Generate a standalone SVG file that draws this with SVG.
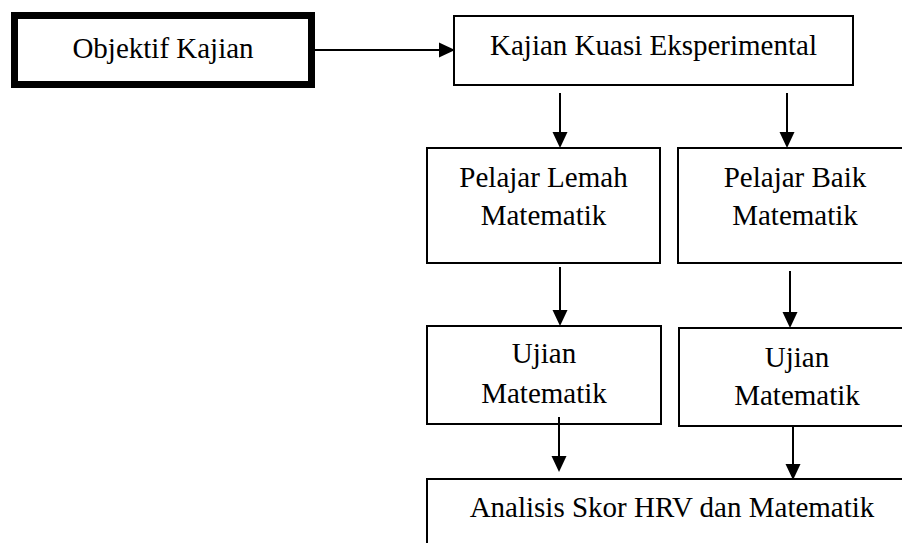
<svg xmlns="http://www.w3.org/2000/svg" width="902" height="543" viewBox="0 0 902 543">
<style>
  .box { fill: #ffffff; stroke: #000000; stroke-width: 2; }
  .thick { fill: #ffffff; stroke: #000000; stroke-width: 7; }
  .lbl { font-family: "Liberation Serif", "Times New Roman", serif; font-size: 29px; fill: #000000; text-anchor: middle; }
  .conn { stroke: #000000; stroke-width: 2; fill: none; marker-end: url(#ah); }
</style>
<defs>
  <marker id="ah" markerUnits="userSpaceOnUse" viewBox="0 0 16 16" markerWidth="16" markerHeight="16" refX="10" refY="8" orient="auto">
    <path d="M0,0.5 L16,8 L0,15.5 z" fill="#000000"/>
  </marker>
</defs>
<rect width="902" height="543" fill="#ffffff"/>
<g id="connectors">
  <line class="conn" x1="315" y1="50" x2="449" y2="50"/>
  <line class="conn" x1="560" y1="93" x2="560" y2="142"/>
  <line class="conn" x1="787" y1="93" x2="787" y2="142"/>
  <line class="conn" x1="560" y1="267" x2="560" y2="320"/>
  <line class="conn" x1="790" y1="271" x2="790" y2="322"/>
</g>
<g id="objektif">
  <rect class="thick" x="14.5" y="15.5" width="297" height="69"/>
  <text class="lbl" x="163" y="58">Objektif Kajian</text>
</g>
<g id="kajian">
  <rect class="box" x="454" y="16" width="399" height="69"/>
  <text class="lbl" x="653.5" y="55">Kajian Kuasi Eksperimental</text>
</g>
<g id="lemah">
  <rect class="box" x="427" y="148" width="233" height="115"/>
  <text class="lbl" x="543.5" y="187">Pelajar Lemah</text>
  <text class="lbl" x="543.5" y="225">Matematik</text>
</g>
<g id="baik">
  <rect class="box" x="678" y="148" width="236" height="115"/>
  <text class="lbl" x="795" y="187">Pelajar Baik</text>
  <text class="lbl" x="795" y="225">Matematik</text>
</g>
<g id="ujian1">
  <rect class="box" x="427" y="326" width="234" height="98"/>
  <text class="lbl" x="544" y="363">Ujian</text>
  <text class="lbl" x="544" y="403">Matematik</text>
</g>
<g id="ujian2">
  <rect class="box" x="679" y="328" width="236" height="98"/>
  <text class="lbl" x="797" y="367">Ujian</text>
  <text class="lbl" x="797" y="405">Matematik</text>
</g>
<g id="analisis">
  <rect class="box" x="427" y="479" width="490" height="100"/>
  <text class="lbl" x="672" y="517">Analisis Skor HRV dan Matematik</text>
</g>
<g id="connectors-over">
  <line class="conn" x1="559" y1="417" x2="559" y2="466"/>
  <line class="conn" x1="793" y1="426" x2="793" y2="474"/>
</g>
</svg>
